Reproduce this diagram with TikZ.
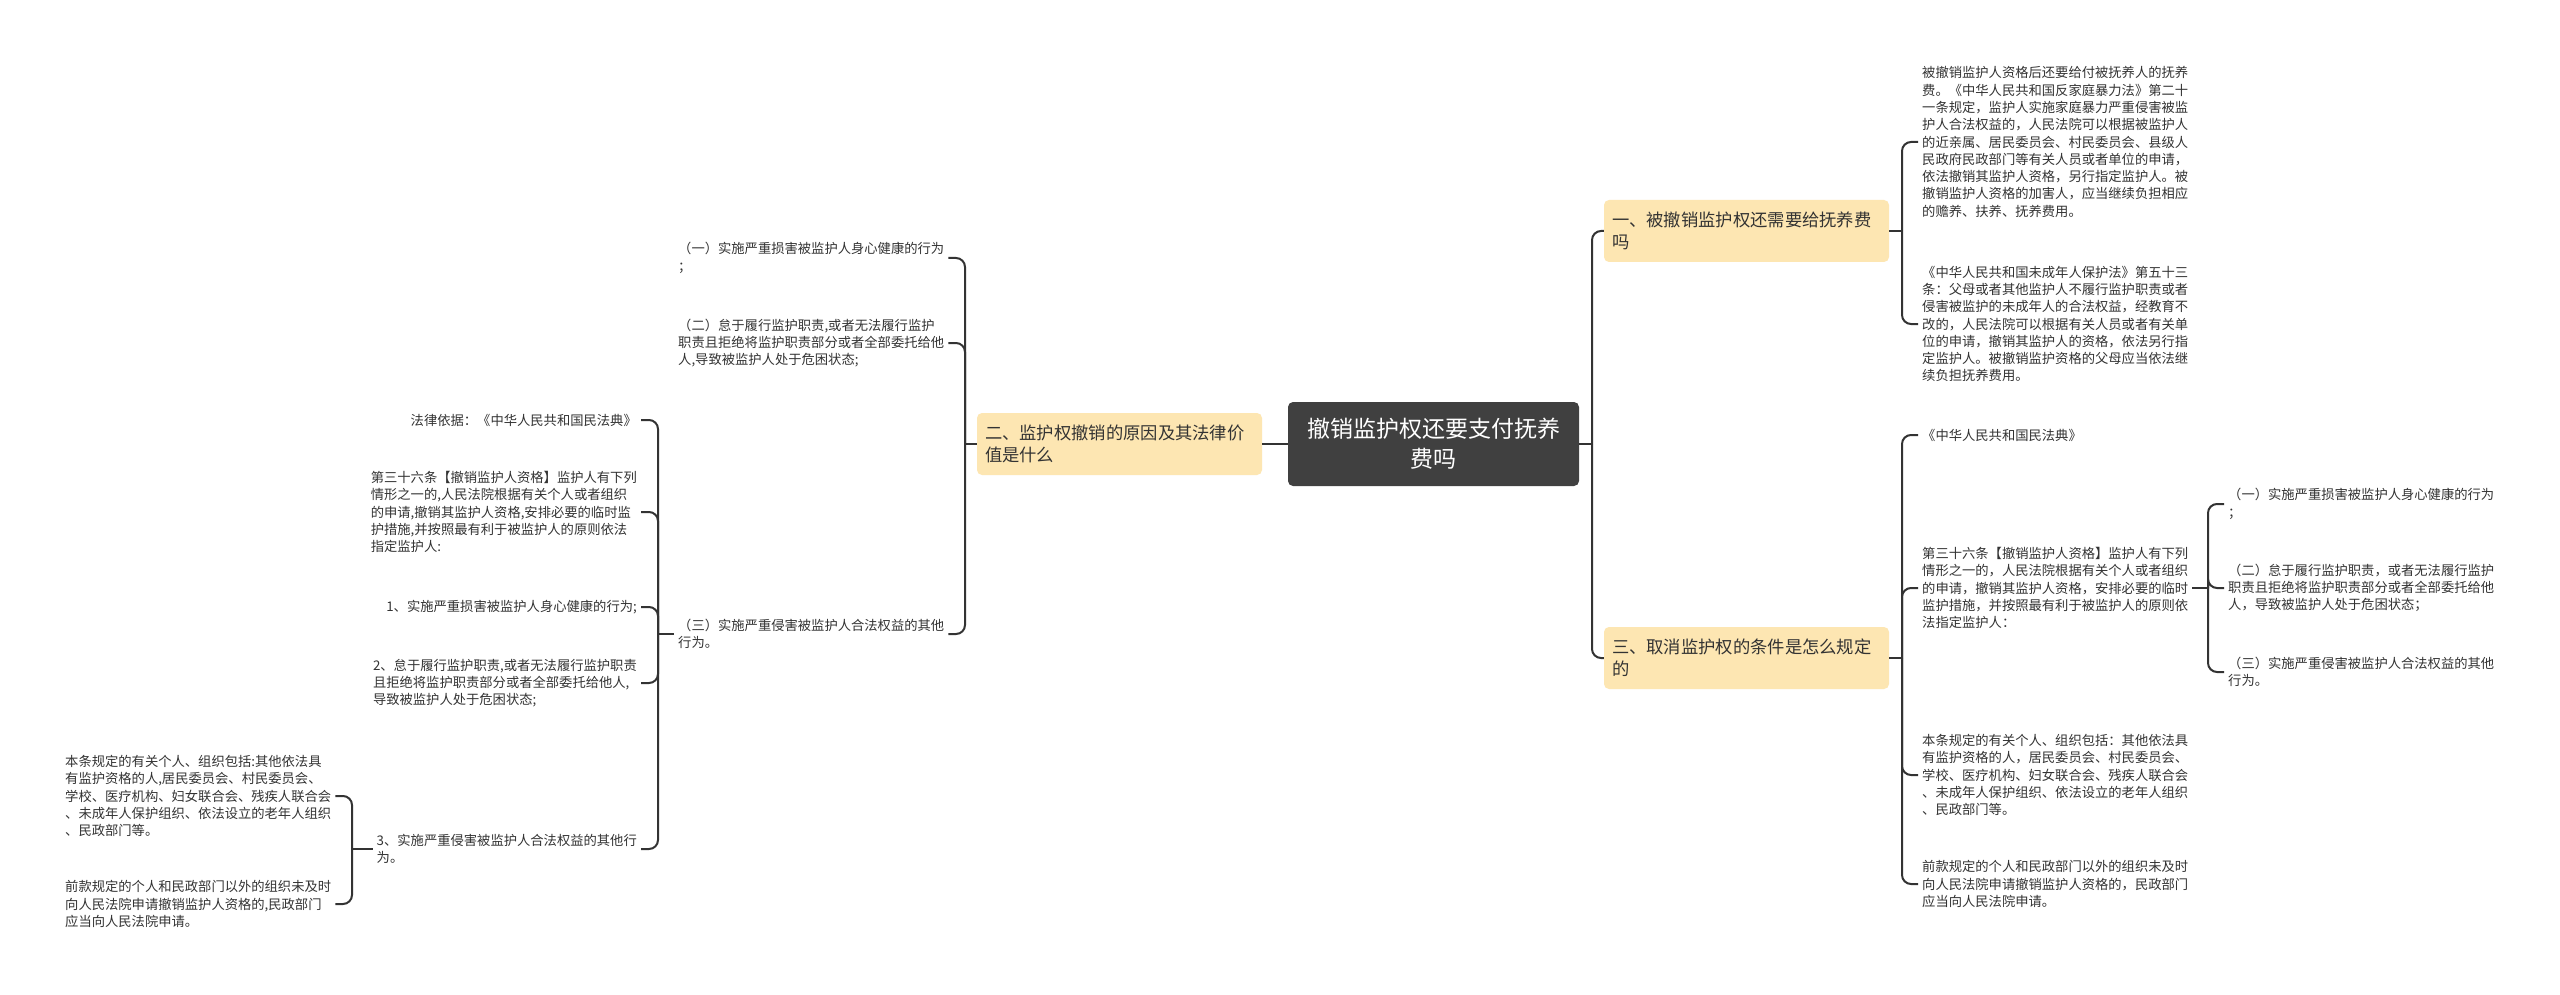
\documentclass[tikz,border=0pt]{standalone}
\usepackage{fontspec}
\setmainfont{Noto Sans CJK SC}
\definecolor{linec}{HTML}{333333}
\definecolor{txtc}{HTML}{333333}
\definecolor{topicfill}{HTML}{FDE6B2}
\definecolor{rootfill}{HTML}{404040}
\tikzset{
  conn/.style={draw=linec, line width=2pt, rounded corners=9pt},
  rootnode/.style={fill=rootfill, rounded corners=5pt, text=white, minimum width=291pt, minimum height=84pt, align=center, font=\fontsize{23}{30}\selectfont, inner sep=0pt},
  topic/.style={fill=topicfill, rounded corners=5pt, text=txtc, minimum height=62pt, text width=269pt, align=left, font=\fontsize{17.3}{22}\selectfont, inner xsep=8pt, inner ysep=0pt},
  leaf/.style={text=txtc, align=left, font=\fontsize{13.3}{17.3}\selectfont, inner xsep=4pt, inner ysep=2pt},
}
\begin{document}
\begin{tikzpicture}[x=1pt,y=-1pt]
\useasboundingbox[fill=white] (0,0) rectangle (2560,995);

% main nodes
\node[rootnode] (c) at (1433.5,444) {撤销监护权还要支付抚养\\费吗};
\node[topic] (n2) at (1119.5,444) {二、监护权撤销的原因及其法律价\\值是什么};
\node[topic] (n1) at (1746.5,231) {一、被撤销监护权还需要给抚养费\\吗};
\node[topic] (n3) at (1746.5,658) {三、取消监护权的条件是怎么规定\\的};

% right leaves
\node[leaf, anchor=west] (r1) at (1918,142) {被撤销监护人资格后还要给付被抚养人的抚养\\费。《中华人民共和国反家庭暴力法》第二十\\一条规定，监护人实施家庭暴力严重侵害被监\\护人合法权益的，人民法院可以根据被监护人\\的近亲属、居民委员会、村民委员会、县级人\\民政府民政部门等有关人员或者单位的申请，\\依法撤销其监护人资格，另行指定监护人。被\\撤销监护人资格的加害人，应当继续负担相应\\的赡养、扶养、抚养费用。};
\node[leaf, anchor=west] (r2) at (1918,324) {《中华人民共和国未成年人保护法》第五十三\\条：父母或者其他监护人不履行监护职责或者\\侵害被监护的未成年人的合法权益，经教育不\\改的，人民法院可以根据有关人员或者有关单\\位的申请，撤销其监护人的资格，依法另行指\\定监护人。被撤销监护资格的父母应当依法继\\续负担抚养费用。};
\node[leaf, anchor=west] (r3) at (1918,435) {《中华人民共和国民法典》};
\node[leaf, anchor=west] (r4) at (1918,588) {第三十六条【撤销监护人资格】监护人有下列\\情形之一的，人民法院根据有关个人或者组织\\的申请，撤销其监护人资格，安排必要的临时\\监护措施，并按照最有利于被监护人的原则依\\法指定监护人：};
\node[leaf, anchor=west] (r5) at (1918,775) {本条规定的有关个人、组织包括：其他依法具\\有监护资格的人，居民委员会、村民委员会、\\学校、医疗机构、妇女联合会、残疾人联合会\\、未成年人保护组织、依法设立的老年人组织\\、民政部门等。};
\node[leaf, anchor=west] (r6) at (1918,884) {前款规定的个人和民政部门以外的组织未及时\\向人民法院申请撤销监护人资格的，民政部门\\应当向人民法院申请。};
\node[leaf, anchor=west] (r7) at (2224,504) {（一）实施严重损害被监护人身心健康的行为\\；};
\node[leaf, anchor=west] (r8) at (2224,588) {（二）怠于履行监护职责，或者无法履行监护\\职责且拒绝将监护职责部分或者全部委托给他\\人，导致被监护人处于危困状态；};
\node[leaf, anchor=west] (r9) at (2224,672) {（三）实施严重侵害被监护人合法权益的其他\\行为。};

% left leaves
\node[leaf, anchor=west] (l1) at (674,258) {（一）实施严重损害被监护人身心健康的行为\\；};
\node[leaf, anchor=west] (l2) at (674,343) {（二）怠于履行监护职责,或者无法履行监护\\职责且拒绝将监护职责部分或者全部委托给他\\人,导致被监护人处于危困状态;};
\node[leaf, anchor=west] (l3) at (674,634) {（三）实施严重侵害被监护人合法权益的其他\\行为。};
\node[leaf, anchor=east] (l4) at (641,420) {法律依据：《中华人民共和国民法典》};
\node[leaf, anchor=east] (l5) at (641,512) {第三十六条【撤销监护人资格】监护人有下列\\情形之一的,人民法院根据有关个人或者组织\\的申请,撤销其监护人资格,安排必要的临时监\\护措施,并按照最有利于被监护人的原则依法\\指定监护人:};
\node[leaf, anchor=east] (l6) at (641,607) {1、实施严重损害被监护人身心健康的行为;};
\node[leaf, anchor=east] (l7) at (641,683) {2、怠于履行监护职责,或者无法履行监护职责\\且拒绝将监护职责部分或者全部委托给他人,\\导致被监护人处于危困状态;};
\node[leaf, anchor=east] (l8) at (641,849) {3、实施严重侵害被监护人合法权益的其他行\\为。};
\node[leaf, anchor=west] (l9) at (61,796) {本条规定的有关个人、组织包括:其他依法具\\有监护资格的人,居民委员会、村民委员会、\\学校、医疗机构、妇女联合会、残疾人联合会\\、未成年人保护组织、依法设立的老年人组织\\、民政部门等。};
\node[leaf, anchor=west] (l10) at (61,904) {前款规定的个人和民政部门以外的组织未及时\\向人民法院申请撤销监护人资格的,民政部门\\应当向人民法院申请。};

% junctions
\coordinate (jR) at (1592,444);
\coordinate (jR1) at (1902,231);
\coordinate (jR3) at (1902,658);
\coordinate (jR4) at (2208,588);
\coordinate (jL) at (965,444);
\coordinate (jLL) at (658,634);
\coordinate (jFL) at (352,849);

% connectors
\draw[conn] (c.west) -- (n2.east);
\draw[conn] (c.east) -- (jR);
\draw[conn] (jR) |- (n1.west);
\draw[conn] (jR) |- (n3.west);

\draw[conn] (n1.east) -- (jR1);
\draw[conn] (jR1) |- (r1.west);
\draw[conn] (jR1) |- (r2.west);

\draw[conn] (n3.east) -- (jR3);
\draw[conn] (jR3) |- (r3.west);
\draw[conn] (jR3) |- (r4.west);
\draw[conn] (jR3) |- (r5.west);
\draw[conn] (jR3) |- (r6.west);

\draw[conn] (r4.east) -- (jR4);
\draw[conn] (jR4) |- (r7.west);
\draw[conn] (jR4) |- (r8.west);
\draw[conn] (jR4) |- (r9.west);

\draw[conn] (n2.west) -- (jL);
\draw[conn] (jL) |- (l1.east);
\draw[conn] (jL) |- (l2.east);
\draw[conn] (jL) |- (l3.east);

\draw[conn] (l3.west) -- (jLL);
\draw[conn] (jLL) |- (l4.east);
\draw[conn] (jLL) |- (l5.east);
\draw[conn] (jLL) |- (l6.east);
\draw[conn] (jLL) |- (l7.east);
\draw[conn] (jLL) |- (l8.east);

\draw[conn] (l8.west) -- (jFL);
\draw[conn] (jFL) |- (l9.east);
\draw[conn] (jFL) |- (l10.east);
\end{tikzpicture}
\end{document}
